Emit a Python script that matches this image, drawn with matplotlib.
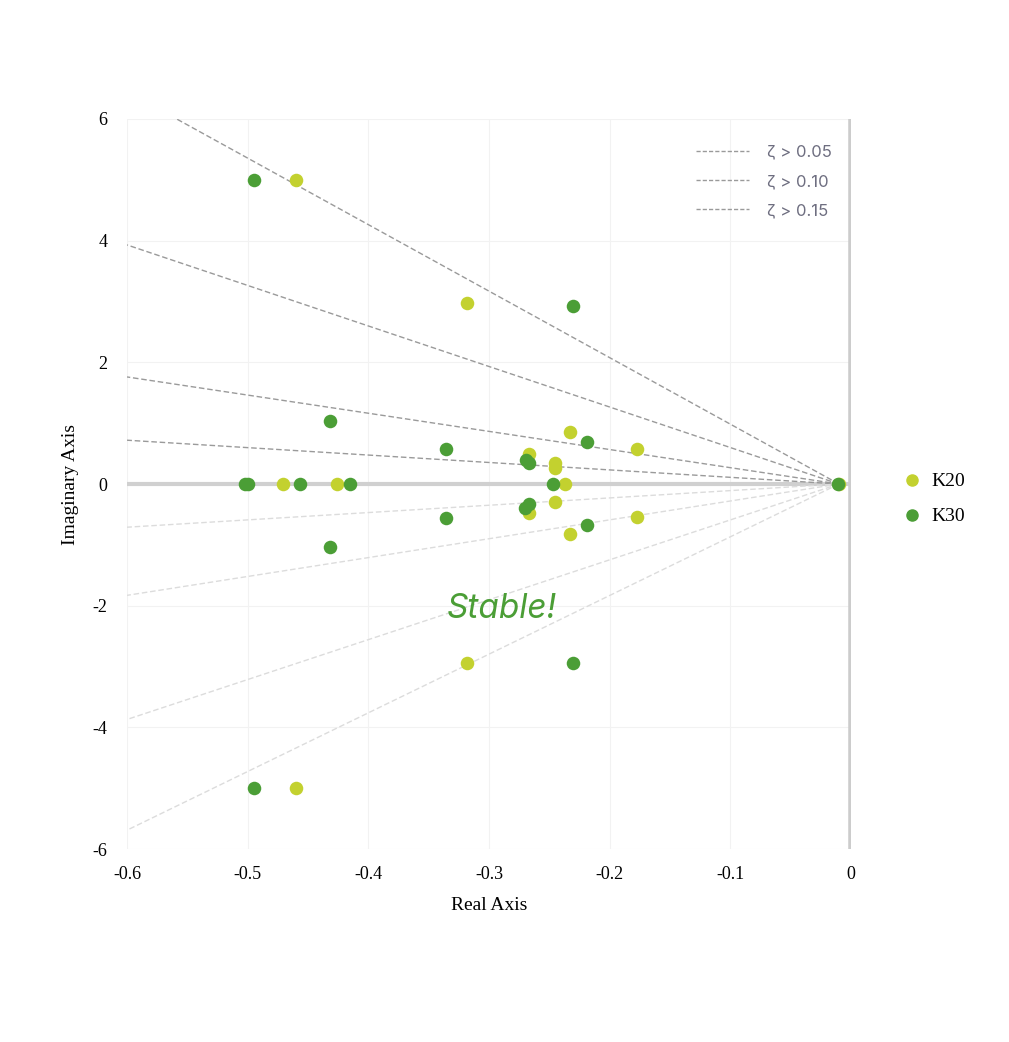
import matplotlib.pyplot as plt
from matplotlib.lines import Line2D

# pole locations (real, imaginary)
k20_re = [-0.46, -0.46, -0.318, -0.318, -0.233, -0.233, -0.177, -0.177,
          -0.267, -0.267, -0.245, -0.245, -0.245, -0.237, -0.471, -0.426, -0.01]
k20_im = [5.0, -5.0, 2.97, -2.95, 0.85, -0.82, 0.57, -0.54,
          0.49, -0.47, 0.34, 0.26, -0.29, 0.0, 0.0, 0.0, 0.0]

k30_re = [-0.495, -0.495, -0.230, -0.230, -0.432, -0.432, -0.336, -0.336,
          -0.219, -0.219, -0.269, -0.267, -0.267, -0.270, -0.500, -0.502,
          -0.457, -0.415, -0.247, -0.011]
k30_im = [5.0, -5.0, 2.92, -2.94, 1.04, -1.03, 0.57, -0.56,
          0.69, -0.67, 0.39, 0.35, -0.33, -0.39, 0.0, 0.0,
          0.0, 0.0, 0.0, 0.0]

# damping guide lines: start near origin, end at x = -0.6
guide_x0 = -0.01
guide_end_x = -0.6
upper_ends = [6.45, 3.93, 1.76, 0.72]
lower_ends = [-0.71, -1.83, -3.87, -5.69]
zeta_labels = ['ζ > 0.05', 'ζ > 0.10', 'ζ > 0.15']

x_ticks = [-0.6, -0.5, -0.4, -0.3, -0.2, -0.1, 0]
y_ticks = [-6, -4, -2, 0, 2, 4, 6]

c20 = '#c3d12f'
c30 = '#4b9e36'

fig = plt.figure(figsize=(10.09, 10.42), dpi=100)
ax = fig.add_axes([0.1259, 0.1852, 0.7175, 0.7006])

for yv in upper_ends:
    ax.plot([guide_x0, guide_end_x], [0, yv], ls=(0, (4, 2)), color='#9a9a9a', lw=1.0, zorder=2)
for yv in lower_ends:
    ax.plot([guide_x0, guide_end_x], [0, yv], ls=(0, (4, 2)), color='#dcdcdc', lw=1.0, zorder=2)

ax.axhline(0, color='#d0d0d0', lw=3, zorder=1)
ax.axvline(0, color='#cccccc', lw=4, zorder=1)

ax.scatter(k20_re, k20_im, s=95, color=c20, zorder=3, linewidths=0)
ax.scatter(k30_re, k30_im, s=95, color=c30, zorder=4, linewidths=0)

ax.text(-0.289, -2.05, 'Stable!', color=c30, fontsize=24, style='italic',
        family='Inter', ha='center', va='center')

ax.set_xlim(-0.6, 0)
ax.set_ylim(-6, 6)
ax.set_xticks(x_ticks)
ax.set_xticklabels([f'{v:g}' for v in x_ticks])
ax.set_yticks(y_ticks)
ax.set_yticklabels([f'{v:g}' for v in y_ticks])
ax.grid(color='#f2f2f2', lw=0.8)
ax.set_axisbelow(True)
for s in ax.spines.values():
    s.set_visible(False)
ax.tick_params(length=0, labelsize=13, pad=12)
ax.tick_params(axis='y', pad=14)
for lab in ax.get_xticklabels() + ax.get_yticklabels():
    lab.set_family('Liberation Serif')
ax.set_xlabel('Real Axis', family='Liberation Serif', fontsize=14, labelpad=10)
ax.set_ylabel('Imaginary Axis', family='Liberation Serif', fontsize=14, labelpad=10)

zeta_handles = [Line2D([], [], ls=(0, (3, 1.5)), color='#9a9a9a', lw=1.0) for _ in zeta_labels]
leg = ax.legend(zeta_handles, zeta_labels, loc='upper right', bbox_to_anchor=(0.995, 0.985),
                frameon=False, handlelength=3.2, handletextpad=1.1, labelspacing=0.85,
                prop={'family': 'Inter', 'size': 12})
for t in leg.get_texts():
    t.set_color('#6e6e80')

k_handles = [Line2D([], [], marker='o', ls='', color=c20, markersize=8),
             Line2D([], [], marker='o', ls='', color=c30, markersize=8)]
fig.legend(k_handles, ['K20', 'K30'], loc='center left', bbox_to_anchor=(0.867, 0.521),
           frameon=False, handletextpad=0.0, labelspacing=0.9,
           prop={'family': 'Liberation Serif', 'size': 14})

fig.savefig('out.png', dpi=100)
